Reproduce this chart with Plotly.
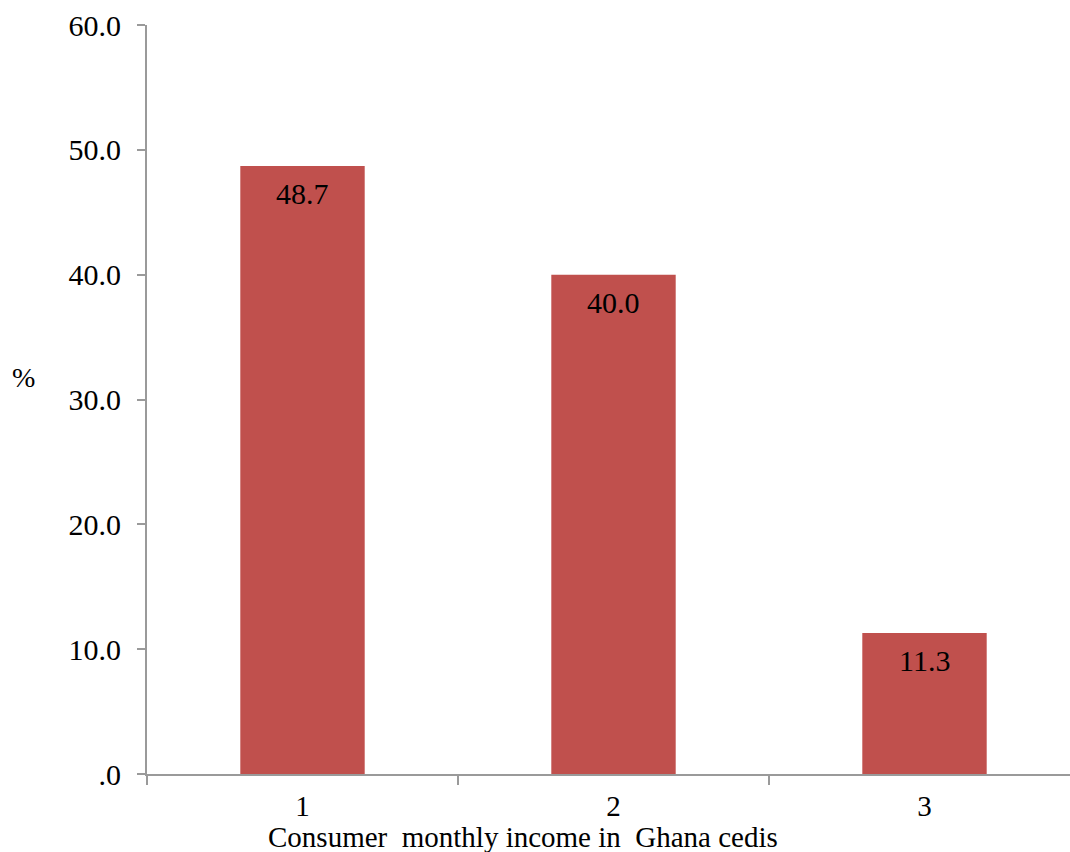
import plotly.graph_objects as go

categories = [1, 2, 3]
category_labels = ["1", "2", "3"]
values = [48.7, 40.0, 11.3]
value_labels = ["48.7", "40.0", "11.3"]
y_ticks = [0, 10, 20, 30, 40, 50, 60]
y_tick_labels = [".0", "10.0", "20.0", "30.0", "40.0", "50.0", "60.0"]
x_title = "Consumer\u00a0\u00a0monthly income in\u00a0\u00a0Ghana cedis"
y_title = "%"

FONT = "Liberation Serif"
AX = "#9a9a9a"

L, R, T, B = 147, 0, 25, 78
W, H = 1070, 852
plot_w = W - L - R
plot_h = H - T - B

fig = go.Figure()
fig.add_trace(go.Bar(
    x=categories, y=values, width=0.4,
    marker=dict(color="#C0504D", line=dict(width=0)),
    hoverinfo="skip",
))

for c, v, t in zip(categories, values, value_labels):
    fig.add_annotation(x=c, y=v, text=t, showarrow=False, xref="x", yref="y",
                       yanchor="top", yshift=-9,
                       font=dict(family=FONT, size=30, color="black"))

fig.add_annotation(x=(523 - L) / plot_w, y=-(837 - 774) / plot_h, xref="paper", yref="paper",
                   text=x_title, showarrow=False, xanchor="center", yanchor="middle",
                   borderpad=0,
                   font=dict(family=FONT, size=29, color="black"))
fig.add_annotation(x=(23 - L) / plot_w, y=(774 - 377) / plot_h, xref="paper", yref="paper",
                   text=y_title, showarrow=False, xanchor="center", yanchor="middle",
                   font=dict(family=FONT, size=28, color="black"))

fig.update_layout(
    width=W, height=H,
    margin=dict(l=L, r=R, t=T, b=B),
    paper_bgcolor="white", plot_bgcolor="white",
    showlegend=False,
    font=dict(family=FONT, size=30, color="black"),
)

fig.update_xaxes(
    range=[0.5, 0.5 + plot_w / 311.0],
    tickmode="array", tickvals=categories, ticktext=category_labels,
    ticks="", showgrid=False, zeroline=False,
    showline=True, linecolor=AX, linewidth=2,
    tickfont=dict(family=FONT, size=29, color="black"),
    minor=dict(tickmode="array", tickvals=[0.5, 1.5, 2.5], ticks="outside",
               ticklen=9, tickwidth=2, tickcolor=AX, showgrid=False),
    ticklabelstandoff=5,
)
fig.update_yaxes(
    range=[0, 60],
    tickmode="array", tickvals=y_ticks, ticktext=y_tick_labels,
    ticks="outside", ticklen=8, tickwidth=2, tickcolor=AX,
    showgrid=False, zeroline=False,
    showline=True, linecolor=AX, linewidth=2,
    tickfont=dict(family=FONT, size=30, color="black"),
    ticklabelstandoff=10,
)

fig.write_html("out.html")
